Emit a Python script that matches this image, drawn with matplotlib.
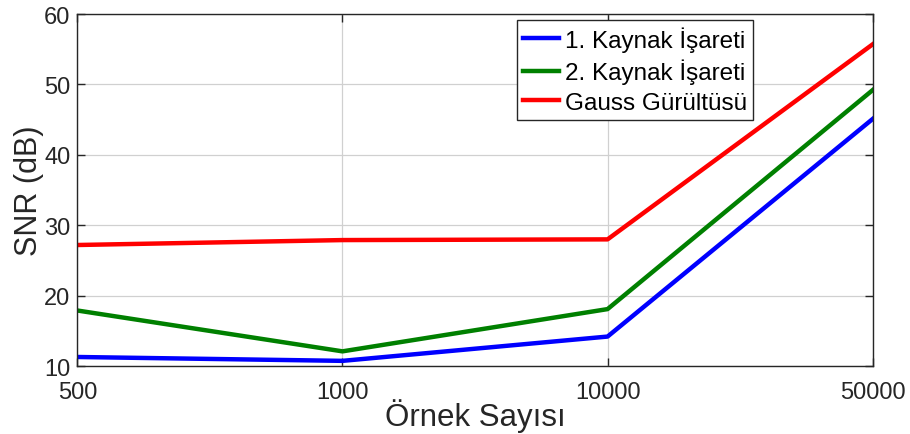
import matplotlib.pyplot as plt

plt.rcParams['font.family'] = ['Liberation Sans', 'DejaVu Sans']

# sample counts (equally spaced categories)
sample_sizes = ["500", "1000", "10000", "50000"]

snr_source1 = [11.3, 10.75, 14.2, 45.1]
snr_source2 = [17.9, 12.1, 18.1, 49.2]
snr_noise = [27.2, 27.9, 28.0, 55.7]

x = list(range(len(sample_sizes)))

fig = plt.figure(figsize=(9.1, 4.35), dpi=100)
ax = fig.add_axes([0.085, 0.156, 0.874, 0.8095])

ax.plot(x, snr_source1, color=(0, 0, 1), lw=3.2, label="1. Kaynak İşareti")
ax.plot(x, snr_source2, color=(0, 0.5, 0), lw=3.2, label="2. Kaynak İşareti")
ax.plot(x, snr_noise, color=(1, 0, 0), lw=3.2, label="Gauss Gürültüsü")

ax.set_xlim(0, 3)
ax.set_ylim(10, 60)
ax.set_xticks(x)
ax.set_xticklabels(sample_sizes)
ax.set_yticks(range(10, 61, 10))

ax.grid(True, color="#d0d0d0", lw=0.9)
ax.tick_params(direction="in", length=6, width=1, colors="#262626",
               labelsize=17, top=True, right=True, pad=5)
ax.tick_params(axis="x", pad=11)
for s in ax.spines.values():
    s.set_color("#262626")
    s.set_linewidth(1)

ax.set_xlabel("Örnek Sayısı", fontsize=22.5, color="#262626", labelpad=-4)
ax.set_ylabel("SNR (dB)", fontsize=22, color="#262626", labelpad=0)

leg = ax.legend(loc="upper right", bbox_to_anchor=(0.8495, 0.983), fontsize=17.5,
                fancybox=False, edgecolor="#262626", framealpha=1,
                handlelength=1.45, handletextpad=0.25, borderpad=0.25,
                labelspacing=0.3, borderaxespad=0)
leg.get_frame().set_linewidth(1)

fig.savefig("out.png", dpi=100)
